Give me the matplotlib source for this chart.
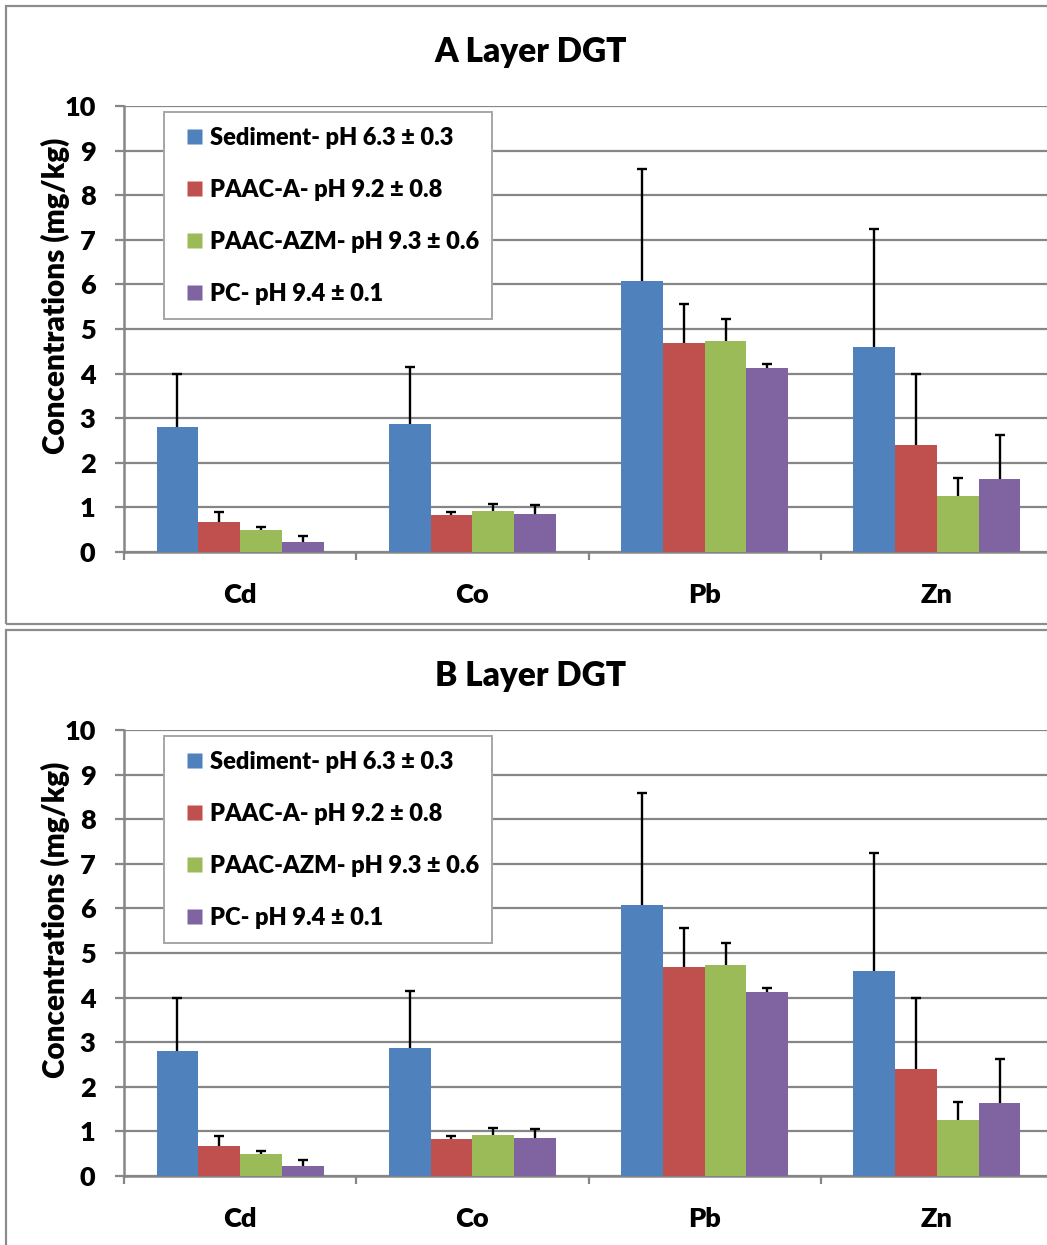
import numpy as np
import matplotlib
matplotlib.use("Agg")
import matplotlib.pyplot as plt
from matplotlib.lines import Line2D
from matplotlib.patches import Rectangle

plt.rcParams['font.family'] = ['Lato', 'DejaVu Sans']
PESO = 800

# datos
metales = ["Cd", "Co", "Pb", "Zn"]
series = ["Sediment- pH 6.3 \u00b1 0.3", "PAAC-A- pH 9.2 \u00b1 0.8",
          "PAAC-AZM- pH 9.3 \u00b1 0.6", "PC- pH 9.4 \u00b1 0.1"]
colores = ["#4F81BD", "#C0504D", "#9BBB59", "#8064A2"]

sedimento = [2.81, 2.86, 6.08, 4.60]
paac_a = [0.68, 0.82, 4.69, 2.41]
paac_azm = [0.49, 0.92, 4.73, 1.26]
pc = [0.22, 0.85, 4.13, 1.64]

err_sedimento = [1.19, 1.29, 2.50, 2.65]
err_paac_a = [0.21, 0.07, 0.88, 1.57]
err_paac_azm = [0.08, 0.16, 0.49, 0.41]
err_pc = [0.14, 0.20, 0.09, 0.98]

valores = [sedimento, paac_a, paac_azm, pc]
errores = [err_sedimento, err_paac_a, err_paac_azm, err_pc]

W, H = 1047, 1245
fig = plt.figure(figsize=(W / 100, H / 100), dpi=100)

gris = "#868686"

# marcos de los paneles
fig.patches.append(Rectangle((6 / W, 1 - 624 / H), 1.2, 618 / H, transform=fig.transFigure,
                             fill=False, edgecolor="#8c8c8c", lw=1.6))
fig.patches.append(Rectangle((6 / W, -0.1), 1.2, 0.1 + 1 - 630 / H, transform=fig.transFigure,
                             fill=False, edgecolor="#8c8c8c", lw=1.6))


def dibujar_panel(y_cero, y_diez, titulo, y_titulo):
    ax = fig.add_axes([124 / W, 1 - y_cero / H, 929 / W, (y_cero - y_diez) / H])
    x = np.arange(len(metales))
    ancho = 0.18
    for i in range(4):
        pos = x + (i - 1.5) * ancho
        ax.bar(pos, valores[i], width=ancho, color=colores[i], zorder=3)
        eb = ax.errorbar(pos, valores[i], yerr=[np.zeros(4), errores[i]], fmt="none",
                         ecolor="black", elinewidth=1.7, capsize=3.6, capthick=1.7, zorder=4)
        eb[1][0].set_visible(False)  # sin tapa inferior
    ax.set_xlim(-0.5, 3.5)
    ax.set_ylim(0, 10)
    ax.set_yticks(range(0, 11))
    ax.yaxis.grid(True, color=gris, lw=1.6, zorder=0)
    ax.set_axisbelow(True)
    for s in ["top", "right"]:
        ax.spines[s].set_visible(False)
    for s in ["left", "bottom"]:
        ax.spines[s].set_color(gris)
        ax.spines[s].set_linewidth(1.8)
    ax.tick_params(axis="y", length=6.5, width=1.6, color=gris, pad=14, labelsize=19.5)
    ax.set_xticks(x)
    ax.set_xticklabels(metales)
    ax.tick_params(axis="x", length=0, pad=22, labelsize=19.5)
    ax.set_xticks(np.arange(-0.5, 4.0, 1.0), minor=True)
    ax.tick_params(axis="x", which="minor", length=6, width=1.6, color=gris)
    for t in ax.get_yticklabels() + ax.get_xticklabels():
        t.set_fontweight(PESO)

    fig.text(531 / W, 1 - y_titulo / H, titulo, ha="center", va="center",
             fontsize=24, fontweight=PESO)
    fig.text(55 / W, 1 - (y_diez + 190) / H, "Concentrations (mg/kg)", rotation=90,
             ha="center", va="center", fontsize=21.3, fontweight=PESO)

    manejadores = [Line2D([], [], ls="none", marker="s", markersize=10.8,
                          markerfacecolor=c, markeredgecolor="none") for c in colores]
    leg = ax.legend(manejadores, series, loc="upper left",
                    bbox_to_anchor=(164 / W, 1 - (y_diez + 6) / H, 328 / W, 0),
                    bbox_transform=fig.transFigure, mode="expand",
                    prop={"size": 17, "weight": PESO}, fancybox=False,
                    framealpha=1, edgecolor="#a6a6a6", handlelength=1.31,
                    handletextpad=0.0, labelspacing=1.27,
                    borderpad=0.62, borderaxespad=0)
    leg.get_frame().set_linewidth(1.4)
    return ax


dibujar_panel(552, 106, "A Layer DGT", 52)
dibujar_panel(1176, 730, "B Layer DGT", 676)

plt.savefig("out.png", dpi=100)
